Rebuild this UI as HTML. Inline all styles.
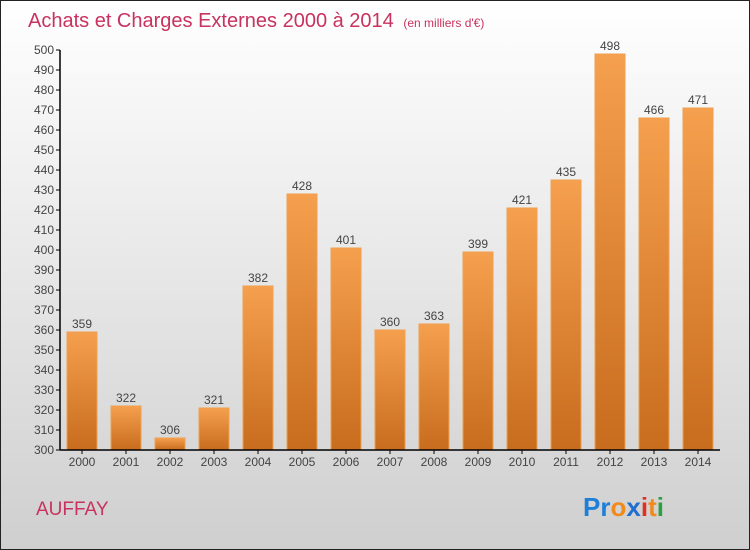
<!DOCTYPE html>
<html><head><meta charset="utf-8"><style>
body{margin:0;}
#c{position:relative;width:748px;height:548px;border:1px solid #222;background:linear-gradient(#ffffff,#cfcfcf);overflow:hidden;font-family:"Liberation Sans",sans-serif;}
</style></head><body>
<div id="c">
<svg id="s" width="748" height="548" style="position:absolute;left:0;top:0">
<text x="27" y="26" font-size="20" fill="#c8325f">Achats et Charges Externes 2000 à 2014 <tspan font-size="12" dx="4">(en milliers d'€)</tspan></text>
<text x="35" y="514" font-size="19" fill="#c8325f">AUFFAY</text>
<g font-size="26" font-weight="bold">
<text x="582" y="515"><tspan fill="#1e7fd8">Pr</tspan><tspan fill="#f08a1c">o</tspan><tspan fill="#1e6fd0">x</tspan><tspan fill="#e03020">i</tspan><tspan fill="#f08a1c">t</tspan><tspan fill="#2aa040">i</tspan></text>
</g>
</svg>
</div>
<script>
const years=["2000","2001","2002","2003","2004","2005","2006","2007","2008","2009","2010","2011","2012","2013","2014"];
const values=[359,322,306,321,382,428,401,360,363,399,421,435,498,466,471];
const yTicks=[300,310,320,330,340,350,360,370,380,390,400,410,420,430,440,450,460,470,480,490,500];
const NS="http://www.w3.org/2000/svg";
const s=document.getElementById('s');
const x0=59,slot=44,yMin=300,yMax=500,yBot=449,yTop=49;
const y=v=>yBot-(v-yMin)/(yMax-yMin)*(yBot-yTop);
const xc=i=>x0+slot*i+slot/2;
function el(t,a){const e=document.createElementNS(NS,t);for(const k in a)e.setAttribute(k,a[k]);s.appendChild(e);return e;}
const defs=el('defs',{});
defs.innerHTML='<linearGradient id="g" x1="0" y1="0" x2="0" y2="1"><stop offset="0" stop-color="#f5a04e"/><stop offset="1" stop-color="#c86c1e"/></linearGradient>';
values.forEach((v,i)=>{
 const r=el('rect',{x:xc(i)-15,y:y(v),width:30,height:yBot-y(v),fill:'url(#g)',stroke:'#f0a050','stroke-width':1});
 
 
 const t=el('text',{x:xc(i),y:y(v)-4,'text-anchor':'middle','font-size':12,fill:'#444'});
 t.textContent=v;
 
 
 const xl=el('text',{x:xc(i),y:yBot+16,'text-anchor':'middle','font-size':12,fill:'#444'});
 xl.textContent=years[i];
 
 
 el('line',{x1:xc(i),x2:xc(i),y1:yBot,y2:yBot+4,stroke:'#000'});
});
yTicks.forEach(v=>{
 el('line',{x1:x0-4,x2:x0,y1:y(v),y2:y(v),stroke:'#000'});
 const t=el('text',{x:x0-6,y:y(v)+4,'text-anchor':'end','font-size':12,fill:'#444'});
 t.textContent=v;
 
 
});
const ya=el('line',{x1:x0,x2:x0,y1:yTop,y2:yBot,stroke:'#000','stroke-width':1.5});


const xa=el('line',{x1:x0,x2:x0+slot*years.length,y1:yBot,y2:yBot,stroke:'#000','stroke-width':1.5});


</script>
</body></html>
